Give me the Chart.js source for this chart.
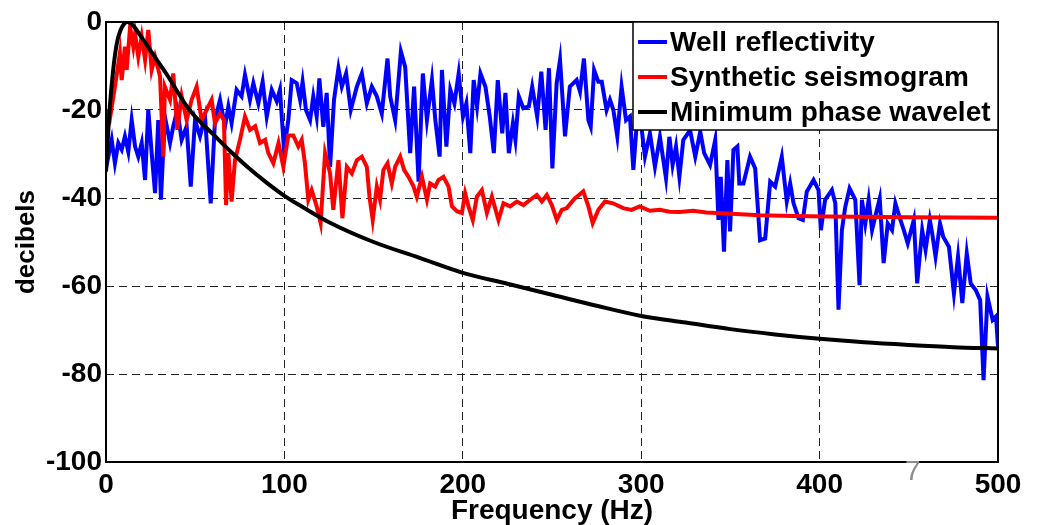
<!DOCTYPE html>
<html>
<head>
<meta charset="utf-8">
<script src="https://cdn.jsdelivr.net/npm/chart.js@4/dist/chart.umd.min.js"></script>
<style>
  html, body { margin: 0; padding: 0; background: #fff; }
  #wrap { width: 1040px; height: 525px; position: relative; }
</style>
</head>
<body>
<div id="wrap"><canvas id="spectra"></canvas></div>
<script>
// axis ticks
const xTicks = [0, 100, 200, 300, 400, 500];
const yTicks = [-100, -80, -60, -40, -20, 0];

const seriesNames = ['Well reflectivity', 'Synthetic seismogram', 'Minimum phase wavelet'];
const seriesColors = ['#0000ff', '#ff0000', '#000000'];

// well reflectivity spectrum (Hz, dB)
const wellFreq = [0, 1.3, 3.2, 5, 6.9, 8.8, 10.6, 12.5, 14.4, 16.3, 18.1, 20, 21.9, 23.7, 25.6, 27.5, 29.3, 30.8, 33, 35.9,
  37.7, 40, 42.4, 45.2, 47.5, 49.9, 52.7, 55.5, 58.7, 61.1, 63.9, 66.7, 68.6, 70.4, 73.2, 76, 77.9, 80.7, 82.6, 85.4,
  87.8, 90.1, 92.9, 95.7, 97.5, 99.8, 102.2, 104.1, 106.9, 108.8, 110.2, 112.1, 114.4, 116.2, 118.1, 119.6, 121.8, 123.7, 125.6, 127.8,
  130.3, 132.2, 134.6, 137.2, 140.6, 143.4, 146.2, 149, 151.8, 154.6, 157.8, 159.3, 162.1, 165.3, 167.7, 170.5, 172.7, 175.2, 177.6, 179.9,
  182.7, 184.6, 187, 188.3, 190.8, 193, 195.3, 197.7, 200.1, 202, 204.2, 206.1, 208, 209.9, 212.7, 215.1, 217.4, 219.6, 222.1, 223.9,
  225.8, 228.1, 229.5, 231.4, 233.9, 237, 238.9, 241.7, 244, 246.4, 248.3, 250.2, 252.6, 254.5, 257.3, 260, 263.8, 265.7, 267.9, 270.4,
  271.7, 273.6, 276, 277.9, 280.6, 282.5, 284.4, 286.6, 289, 291.5, 293.7, 295.6, 297.8, 300.3, 302.1, 304.9, 307.7, 310.5, 313.9, 315.8,
  317.6, 319.5, 321.4, 323.6, 327.4, 330.3, 333.1, 335.3, 338.6, 341.5, 343.3, 344.6, 346.4, 348.3, 349.8, 351.7, 353.9, 355, 357.3, 361,
  363.9, 366.6, 369.5, 372.3, 375.1, 378.8, 381.6, 383.5, 385.4, 388.2, 390.6, 392.8, 396.6, 399.4, 400.7, 403.1, 406.9, 408.8, 410.6, 412.5,
  414.4, 416.8, 420, 422.4, 423.7, 425.6, 427.5, 429.4, 431.2, 433.7, 435.9, 438.2, 440.6, 442.5, 445.3, 447.2, 449.4, 452.8, 454.7, 457.5,
  459.4, 461.8, 463.1, 465, 467.5, 469.3, 472.5, 475.3, 477.6, 480, 482.5, 484.7, 487.5, 490, 491.9, 494.1, 497, 498.9, 500];
const wellDb = [-24.5, -30.6, -26.8, -32.1, -27.5, -29, -26, -29.5, -22.3, -28.3, -30.6, -27.5, -35.9, -20, -29.8, -38.9, -22.3, -40.4, -21.5, -27.5,
  -23.7, -20, -26.8, -23.7, -37.4, -22.3, -26, -21.5, -41.2, -22.3, -17.7, -23.7, -19.2, -23, -15.4, -16.9, -12, -17.7, -13.9, -18.5,
  -13.6, -21.5, -15.4, -18, -15.4, -29.1, -22.3, -13.2, -13.9, -17.7, -13.6, -20, -22.3, -16.9, -21.5, -12.8, -23.8, -16.1, -32.9, -17.7,
  -10.5, -14.7, -11.7, -20, -14.7, -11.7, -18.5, -14.7, -16.9, -20.8, -8.3, -16.9, -22.3, -6.7, -10.2, -29.8, -14.7, -36.3, -11.7, -22.3,
  -13.2, -22.3, -30.6, -10.9, -28.3, -15.4, -18.5, -11.7, -21.5, -18.5, -29.8, -13.2, -19.2, -11.7, -14.7, -21.5, -29.8, -13.2, -25.3, -16.1,
  -29.8, -23, -26.8, -16.9, -19.6, -19.2, -14.7, -21.5, -11.3, -24.5, -10.5, -33.3, -13.9, -8.6, -26, -14.7, -13.2, -15.8, -8.3, -22.3,
  -23.8, -10.9, -13.6, -13.6, -20, -17.7, -20, -26, -14.7, -22.3, -21.5, -33.6, -21.5, -24.5, -30.6, -25.3, -32.9, -26.1, -35.5, -26.1,
  -32.5, -28.3, -35.2, -26.8, -24.6, -30.6, -24.9, -29.8, -32.5, -26.8, -45, -35.2, -52.2, -31.4, -47.6, -29.1, -28.3, -36.7, -36.7, -30.6,
  -33.3, -49.6, -49.2, -36.3, -37.4, -30.6, -40.8, -36.7, -41.2, -44.6, -45, -38.6, -35.9, -38.2, -47.3, -40.4, -38.2, -41.2, -65.4, -47.3,
  -42, -37.8, -40.4, -59.8, -40.4, -45.8, -40.4, -47.3, -44.2, -40.1, -54.8, -45.8, -47.3, -41.2, -45, -47.3, -50.3, -45, -59.4, -47.3,
  -51.8, -45, -48, -53.3, -45.8, -48.8, -51.1, -61.7, -53.3, -63.9, -52.6, -59.4, -60.9, -63.2, -81.4, -62.4, -67.7, -66.9, -73.8];

// synthetic seismogram spectrum
const synthFreq = [0, 2.2, 5, 7.8, 8.8, 10.6, 11.6, 13.5, 15.3, 16.3, 18.1, 20, 21.9, 23.7, 25.6, 27.5, 30.3, 32.1, 33, 35.9,
  37.7, 40, 42.4, 45.2, 48, 50.8, 53.6, 56.4, 59.2, 61.1, 63.9, 66.1, 67.3, 68.6, 70.4, 72.3, 75.1, 77.9, 80.7, 83.6,
  86.3, 89.2, 91, 93.8, 96.7, 99.4, 102.2, 105, 107.8, 109.7, 111.5, 113.4, 115.3, 118.1, 120.3, 122.8, 125.6, 127.4, 130.3, 132.5,
  135, 137.8, 140.6, 143.4, 146.2, 147.7, 149.5, 151.8, 153.6, 155.5, 157.8, 160.2, 162.1, 164.9, 167.1, 169.6, 172.4, 174.2, 177.1, 179.9,
  181.7, 184.5, 186.4, 189.2, 192, 193.9, 196.7, 199.5, 201.3, 203.2, 205.6, 207.9, 210.7, 213.5, 216.3, 220, 222.8, 226.5, 230.3, 234,
  237.8, 241.5, 244.3, 247.1, 249.9, 252.7, 255.5, 258.3, 262.5, 267.5, 270.4, 272.8, 276, 279.7, 284.2, 289.9, 294.6, 299.2, 304.8, 310.4,
  316, 321.6, 329.1, 336.5, 347.8, 366.4, 385.1, 403.8, 450, 500];
const synthDb = [-20, -22, -14.7, -7.1, -13.2, -5.6, -10.9, -1.1, -5.6, -2.6, -7.9, -3.3, -8.6, -1.8, -10.9, -7.9, -12.4, -30.6, -14.7, -17.7,
  -11.7, -24.5, -16.9, -22.3, -17.7, -14.7, -22.3, -20, -17.7, -23, -20.8, -22.3, -41.6, -29.8, -40.8, -31.4, -26.8, -21.5, -24.5, -23.7,
  -27.5, -26.8, -29.8, -32.1, -27.5, -32.9, -25.8, -25.8, -28.3, -26.8, -32.1, -40.4, -38.2, -41.9, -45.7, -29.8, -34.4, -42.7, -31.4, -44.6,
  -32.9, -34.4, -31.4, -30.6, -32.9, -39.7, -45, -37.4, -40.4, -33.6, -32.1, -36.7, -32.9, -30.6, -33.6, -35.2, -37.4, -39.7, -35.2, -40.4,
  -36.7, -37.4, -35.9, -35.2, -37.4, -41.9, -43, -43.4, -38.9, -41.9, -45, -39.7, -38.2, -43.4, -39.7, -45, -41.2, -41.9, -40.8, -41.6,
  -40.4, -39.3, -40.8, -39.3, -41.6, -45, -42.7, -42.3, -40.2, -38.5, -41.9, -45.7, -42.7, -40.8, -41.2, -42.3, -42.7, -41.9, -42.9, -42.7,
  -43.1, -43.2, -42.9, -43.3, -43.5, -43.9, -44.1, -44.2, -44.4, -44.5];

// minimum phase wavelet spectrum
const waveletFreq = [0, 2, 4, 6, 8, 10, 12, 14, 16, 20, 25, 30, 35, 40, 45, 50, 60, 70, 80, 90,
  100, 110, 125, 150, 175, 200, 225, 250, 275, 300, 325, 350, 375, 400, 425, 450, 475, 500];
const waveletDb = [-34, -20, -11, -5, -2, -0.5, 0, -0.3, -1.2, -3.5, -6.5, -9.5, -12.5, -15.8, -19, -21.5, -25.5, -29.5, -33.2, -36.5,
  -39.5, -42, -45.5, -50, -53.5, -57, -59.5, -62, -64.5, -66.8, -68.3, -69.8, -71, -72, -72.8, -73.4, -73.9, -74.2];

const FONT = "'Liberation Sans', Arial, sans-serif";

function pts(xs, ys) {
    return xs.map((x, i) => ({ x: x, y: ys[i] }));
}

// frame, legend box and loose labels, MATLAB style
const extras = {
    id: 'extras',
    afterDraw(chart) {
        const { ctx, chartArea: a } = chart;
        ctx.save();

        ctx.strokeStyle = '#000';
        ctx.lineWidth = 2;
        ctx.setLineDash([]);
        ctx.strokeRect(a.left, a.top, a.right - a.left, a.bottom - a.top);

        // legend
        const lx = 633, ly = 22, lw = 365, lh = 108;
        ctx.fillStyle = '#fff';
        ctx.fillRect(lx, ly, lw, lh);
        ctx.lineWidth = 1.5;
        ctx.strokeRect(lx, ly, lw, lh);
        ctx.font = 'bold 28px ' + FONT;
        ctx.textBaseline = 'middle';
        ctx.textAlign = 'left';
        seriesNames.forEach((name, i) => {
            const y = 42 + i * 35;
            ctx.strokeStyle = seriesColors[i];
            ctx.lineWidth = 4;
            ctx.beginPath();
            ctx.moveTo(638, y);
            ctx.lineTo(667, y);
            ctx.stroke();
            ctx.fillStyle = '#000';
            ctx.fillText(name, 670, y + 1);
        });

        // y label
        ctx.save();
        ctx.translate(27, 242);
        ctx.rotate(-Math.PI / 2);
        ctx.textAlign = 'center';
        ctx.font = 'bold 26px ' + FONT;
        ctx.fillStyle = '#000';
        ctx.fillText('decibels', 0, 0);
        ctx.restore();

        // stray page number from the slide
        ctx.font = '28px ' + FONT;
        ctx.fillStyle = '#8c8c8c';
        ctx.textAlign = 'left';
        ctx.fillText('7', 905, 472);

        ctx.restore();
    }
};

document.addEventListener('DOMContentLoaded', () => {
    const ctx = document.getElementById('spectra').getContext('2d');
    new Chart(ctx, {
        type: 'line',
        data: {
            datasets: [
                { label: seriesNames[0], data: pts(wellFreq, wellDb), borderColor: seriesColors[0], borderWidth: 4, pointRadius: 0, tension: 0, order: 3 },
                { label: seriesNames[1], data: pts(synthFreq, synthDb), borderColor: seriesColors[1], borderWidth: 4, pointRadius: 0, tension: 0, order: 2 },
                { label: seriesNames[2], data: pts(waveletFreq, waveletDb), borderColor: seriesColors[2], borderWidth: 4, pointRadius: 0, cubicInterpolationMode: 'monotone', order: 1 }
            ]
        },
        options: {
            responsive: true,
            maintainAspectRatio: false,
            animation: false,
            layout: { padding: { top: 22, right: 42, left: 0, bottom: 0 } },
            plugins: { legend: { display: false }, tooltip: { enabled: false } },
            scales: {
                x: {
                    type: 'linear',
                    min: 0,
                    max: 500,
                    afterBuildTicks: s => { s.ticks = xTicks.map(v => ({ value: v })); },
                    afterFit: s => { s.height = 63; },
                    grid: { color: '#222', lineWidth: 1, drawTicks: false },
                    border: { display: false, dash: [8, 5] },
                    ticks: { color: '#000', font: { family: FONT, size: 28, weight: 'bold' }, padding: 6, maxRotation: 0 },
                    title: { display: true, text: 'Frequency (Hz)', color: '#000', font: { family: FONT, size: 28, weight: 'bold' }, padding: { top: 0, bottom: -3 } }
                },
                y: {
                    min: -100,
                    max: 0,
                    afterBuildTicks: s => { s.ticks = yTicks.map(v => ({ value: v })); },
                    afterFit: s => { s.width = 106; },
                    grid: { color: '#222', lineWidth: 1, drawTicks: false },
                    border: { display: false, dash: [8, 5] },
                    ticks: { color: '#000', font: { family: FONT, size: 28, weight: 'bold' }, padding: 4 }
                }
            }
        },
        plugins: [extras]
    });
});
</script>
</body>
</html>
